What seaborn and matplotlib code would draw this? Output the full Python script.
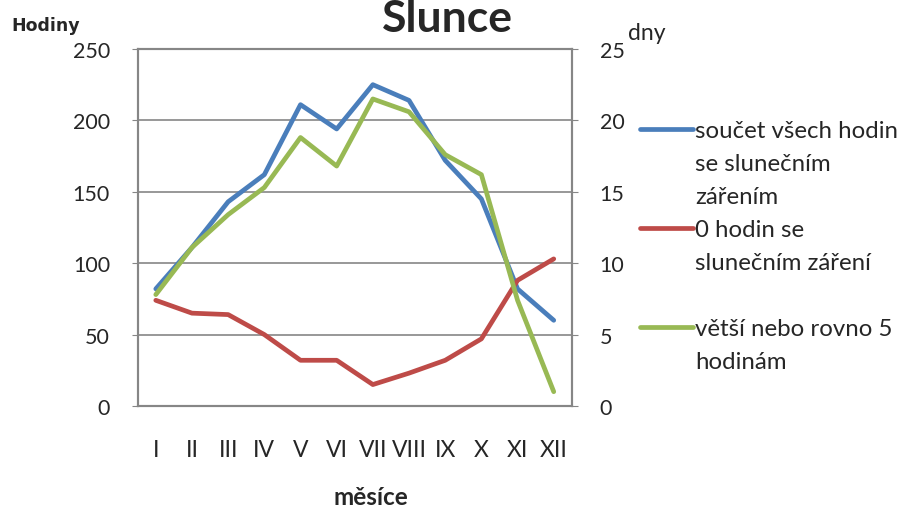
import matplotlib
matplotlib.use("Agg")
import matplotlib.pyplot as plt
import numpy as np
import pandas as pd
import seaborn as sns
from matplotlib.lines import Line2D

# data
months = ["I", "II", "III", "IV", "V", "VI", "VII", "VIII", "IX", "X", "XI", "XII"]
hours_total = [82, 111, 143, 162, 211, 194, 225, 214, 172, 145, 82, 60]
days_zero = [7.4, 6.5, 6.4, 5.0, 3.2, 3.2, 1.5, 2.3, 3.2, 4.7, 8.8, 10.3]
days_5plus = [7.8, 11.1, 13.4, 15.3, 18.8, 16.8, 21.5, 20.6, 17.6, 16.2, 7.4, 1.0]

labels = [
    "součet všech hodin\nse slunečním\nzářením",
    "0 hodin se\nslunečním záření",
    "větší nebo rovno 5\nhodinám",
]
colors = ["#4A7EBB", "#BE4B48", "#98B954"]

sns.set_style("white")
plt.rcParams["font.family"] = ["Lato", "DejaVu Sans"]

df = pd.DataFrame({
    "x": np.arange(len(months)),
    "hours": hours_total,
    "zero": days_zero,
    "five": days_5plus,
})

fig = plt.figure(figsize=(9.12, 5.10), dpi=100)
ax = fig.add_axes([0.151, 0.202, 0.476, 0.700])
ax2 = ax.twinx()

lw = 3.4
sns.lineplot(data=df, x="x", y="hours", color=colors[0], lw=lw, ax=ax, zorder=3)
sns.lineplot(data=df, x="x", y="zero", color=colors[1], lw=lw, ax=ax2)
sns.lineplot(data=df, x="x", y="five", color=colors[2], lw=lw, ax=ax2)

ax.set_xlim(-0.5, len(months) - 0.5)
ax.set_ylim(0, 250)
ax2.set_ylim(0, 25)
ax.set_yticks(range(0, 251, 50))
ax2.set_yticks(range(0, 26, 5))
ax.set_xticks(range(len(months)))
ax.set_xticklabels(months)
ax.set_xlabel("")
ax.set_ylabel("")
ax2.set_ylabel("")

ax.yaxis.grid(True, color="#868686", lw=1.2)
ax.set_axisbelow(True)
for a in (ax, ax2):
    for s in a.spines.values():
        s.set_color("#868686")
        s.set_linewidth(1.5)
ax.tick_params(axis="y", left=True, length=4, color="#868686", labelsize=15.5, pad=16)
ax2.tick_params(axis="y", right=True, length=4, color="#868686", labelsize=15.5, pad=16)
ax.tick_params(axis="x", bottom=False, labelsize=16.5, pad=20)

# legend: one row per text line, handle only on the first line of each entry
handles, texts = [], []
blank = Line2D([], [], color="none")
rows = [
    (colors[0], labels[0]),
    (colors[1], labels[1]),
    (None, ""),
    (colors[2], labels[2]),
]
for col, lab in rows:
    parts = lab.split("\n")
    handles.append(Line2D([], [], color=col, lw=lw) if col else blank)
    texts.append(parts[0])
    for p in parts[1:]:
        handles.append(blank)
        texts.append(p)
fig.legend(handles, texts, loc="upper left", bbox_to_anchor=(0.702, 0.762),
           frameon=False, fontsize=17.3, handlelength=2.2, handletextpad=0.08,
           labelspacing=0.5, borderaxespad=0, borderpad=0)

fig.text(0.491, 0.937, "Slunce", ha="center", va="baseline", fontsize=32, fontweight="bold")
fig.text(0.013, 0.939, "Hodiny", ha="left", va="baseline", fontsize=12.5,
         fontweight="bold", family=["DejaVu Sans"])
fig.text(0.689, 0.922, "dny", ha="left", va="baseline", fontsize=16.5)
fig.text(0.407, 0.01, "měsíce", ha="center", va="baseline", fontsize=17.5, fontweight="bold")

fig.savefig("out.png", dpi=100)
